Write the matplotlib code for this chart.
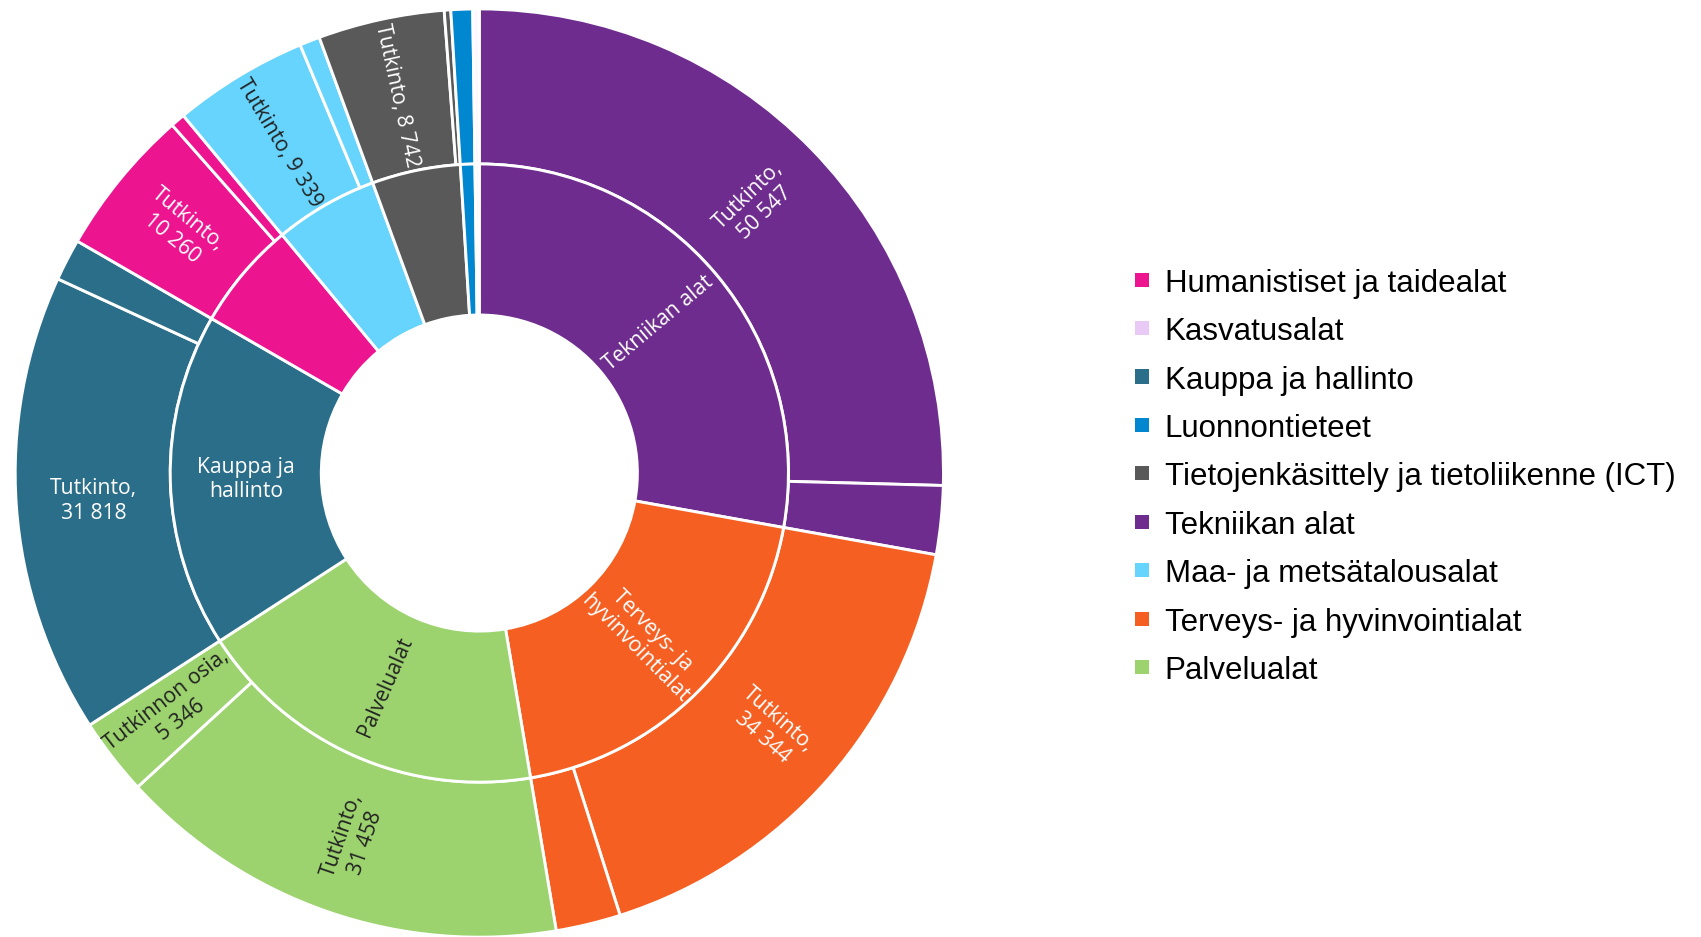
import matplotlib
matplotlib.use("Agg")
import matplotlib.pyplot as plt
from matplotlib.patches import Rectangle
import numpy as np

# ---------------- data ----------------
categories = [
    "Humanistiset ja taidealat",
    "Kasvatusalat",
    "Kauppa ja hallinto",
    "Luonnontieteet",
    "Tietojenkäsittely ja tietoliikenne (ICT)",
    "Tekniikan alat",
    "Maa- ja metsätalousalat",
    "Terveys- ja hyvinvointialat",
    "Palvelualat",
]
colors = ["#EC148F", "#E9C9F6", "#2A6E8A", "#0087D0", "#595959",
          "#6E2C8E", "#66D4FC", "#F55F22", "#9CD36E"]
wedge_colors = ["#EC148F", "#FCF8FE", "#2A6E8A", "#0087D0", "#595959",
                "#6E2C8E", "#66D4FC", "#F55F22", "#9CD36E"]
tutkinto = [10260, 450, 31818, 1500, 8742, 50547, 9339, 34344, 31458]
osia = [1000, 0, 2900, 0, 450, 4755, 1400, 4480, 5346]

inner_labels = {"Tekniikan alat": "Tekniikan alat",
                "Terveys- ja hyvinvointialat": "Terveys- ja\nhyvinvointialat",
                "Palvelualat": "Palvelualat",
                "Kauppa ja hallinto": "Kauppa ja\nhallinto"}
# which outer slices carry labels and in how many lines
outer_label_style = {("Tekniikan alat", "Tutkinto"): 2,
                     ("Terveys- ja hyvinvointialat", "Tutkinto"): 2,
                     ("Palvelualat", "Tutkinto"): 2,
                     ("Palvelualat", "Tutkinnon osia"): 2,
                     ("Kauppa ja hallinto", "Tutkinto"): 2,
                     ("Humanistiset ja taidealat", "Tutkinto"): 2,
                     ("Maa- ja metsätalousalat", "Tutkinto"): 1,
                     ("Tietojenkäsittely ja tietoliikenne (ICT)", "Tutkinto"): 1}
dark_text = {"Maa- ja metsätalousalat", "Palvelualat"}

# --------------- figure ---------------
W, H = 1701, 937
fig = plt.figure(figsize=(17.015, 9.375), dpi=100)
cx, cy, R = 479.2, 473.3, 464.0
ax = fig.add_axes([(cx - R) / W, (H - cy - R) / H, 2 * R / W, 2 * R / H])

totals = [t + o for t, o in zip(tutkinto, osia)]
order = sorted(range(len(categories)), key=lambda i: -totals[i])

inner_vals = [totals[i] for i in order]
inner_cols = [wedge_colors[i] for i in order]
outer_vals, outer_cols, outer_keys = [], [], []
for i in order:
    for name, v in (("Tutkinto", tutkinto[i]), ("Tutkinnon osia", osia[i])):
        if v > 0:
            outer_vals.append(v)
            outer_cols.append(wedge_colors[i])
            outer_keys.append((categories[i], name, v))

r_out, r_mid, r_hole = 1.0, 309 / R, 158 / R
wp = dict(edgecolor="white", linewidth=2.1)
ow, _ = ax.pie(outer_vals, radius=r_out, colors=outer_cols, startangle=90,
               counterclock=False, wedgeprops=dict(width=r_out - r_mid, **wp))
iw, _ = ax.pie(inner_vals, radius=r_mid, colors=inner_cols, startangle=90,
               counterclock=False, wedgeprops=dict(width=r_mid - r_hole, **wp))
ax.set_xlim(-1, 1)
ax.set_ylim(-1, 1)
ax.set_aspect("equal")
ax.set_axis_off()


def place(wedge, r, text, color):
    mid = (wedge.theta1 + wedge.theta2) / 2
    m = ((mid + 180) % 360) - 180
    rot = m if -90 <= m <= 90 else (m - 180 if m > 0 else m + 180)
    if abs(rot) < 6:
        rot = 0
    x, y = r * np.cos(np.radians(mid)), r * np.sin(np.radians(mid))
    ax.text(x, y, text, color=color, fontsize=15.2, family="Open Sans",
            rotation=rot, rotation_mode="anchor", ha="center", va="center",
            multialignment="center", linespacing=1.2)


def fmt(v):
    return f"{v:,}".replace(",", " ")


for w, (cat, name, v) in zip(ow, outer_keys):
    style = outer_label_style.get((cat, name))
    if style:
        sep = "\n" if style == 2 else " "
        col = "#222222" if cat in dark_text else "white"
        place(w, (r_out + r_mid) / 2, f"{name},{sep}{fmt(v)}", col)

for w, i in zip(iw, order):
    cat = categories[i]
    if cat in inner_labels:
        col = "#222222" if cat in dark_text else "white"
        place(w, (r_mid + r_hole) / 2, inner_labels[cat], col)

# --------------- legend ---------------
y0, dy = 280.0, 48.4
for k, (name, c) in enumerate(zip(categories, colors)):
    yc = y0 + k * dy
    fig.patches.append(Rectangle((1135 / W, (H - yc - 7) / H), 14 / W, 14 / H,
                                 transform=fig.transFigure, facecolor=c,
                                 edgecolor="none"))
    fig.text(1164.5 / W, (H - yc - 11.5) / H, name, fontsize=22.5,
             family="Liberation Sans", color="black", va="baseline", ha="left")

fig.savefig("out.png", dpi=100, facecolor="white")
